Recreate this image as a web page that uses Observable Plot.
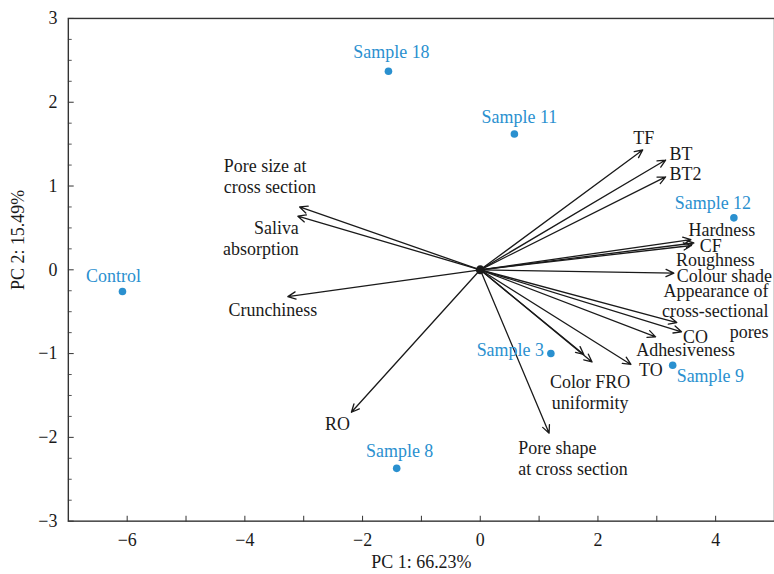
<!DOCTYPE html>
<html><head><meta charset="utf-8">
<script src="https://cdn.jsdelivr.net/npm/d3@7"></script>
<script src="https://cdn.jsdelivr.net/npm/@observablehq/plot@0.6"></script>
<style>
html,body{margin:0;padding:0;background:#fff;overflow:hidden;}
</style></head><body><div id="chart"></div>
<script>
// ---- data ----
const sampleNames = ["Control", "Sample 18", "Sample 11", "Sample 12", "Sample 3", "Sample 9", "Sample 8"];
const samplePC1 = [-6.08, -1.56, 0.58, 4.31, 1.20, 3.27, -1.42];
const samplePC2 = [-0.26, 2.37, 1.62, 0.62, -1.00, -1.14, -2.37];

const variableNames = ["TF", "BT", "BT2", "Hardness", "CF", "Roughness", "Colour shade",
  "Appearance of cross-sectional pores", "CO", "Adhesiveness", "TO", "Color uniformity", "FRO",
  "Pore shape at cross section", "RO", "Crunchiness", "Saliva absorption", "Pore size at cross section"];
const variableLabels = ["TF", "BT", "BT2", "Hardness", "CF", "Roughness", "Colour shade",
  "Appearance of\ncross-sectional\npores", "CO", "Adhesiveness", "TO", "Color FRO\nuniformity", "",
  "Pore shape\nat cross section", "RO", "Crunchiness", "Saliva\nabsorption", "Pore size at\ncross section"];
const loadingPC1 = [2.76, 3.15, 3.15, 3.58, 3.63, 3.59, 3.29, 3.34, 3.42, 2.98, 2.56, 1.90, 1.76, 1.17, -2.19, -3.27, -3.10, -3.07];
const loadingPC2 = [1.43, 1.31, 1.11, 0.36, 0.32, 0.29, -0.04, -0.63, -0.74, -0.80, -1.13, -1.10, -1.01, -1.95, -1.70, -0.32, 0.64, 0.75];

const xMajorTicks = [-6, -4, -2, 0, 2, 4];
const xMinorTicks = [-6, -5, -4, -3, -2, -1, 0, 1, 2, 3, 4];
const yMajorTicks = [-3, -2, -1, 0, 1, 2, 3];
const yMinorTicks = d3.range(-2.75, 3, 0.25).filter(v => !Number.isInteger(v));
const arrowOrigin = [{pc1: 0, pc2: 0}];
const xTitle = "PC 1: 66.23%";
const yTitle = "PC 2: 15.49%";

// ---- layout / style ----
const samples = sampleNames.map((name, i) => ({name, pc1: samplePC1[i], pc2: samplePC2[i]}));
const loadings = variableNames.map((name, i) => ({name, label: variableLabels[i], pc1: loadingPC1[i], pc2: loadingPC2[i]}));

// [textAnchor, dx, dy] in pixels relative to the point / arrow tip
const loadingLabelPlace = {
  "TF": ["middle", 1, -13],
  "BT": ["start", 4, -7],
  "BT2": ["start", 4, -3],
  "Hardness": ["middle", 31, -10],
  "CF": ["middle", 17, 2],
  "Roughness": ["middle", 24, 14],
  "Colour shade": ["start", 3, 2],
  "Appearance of cross-sectional pores": ["end", 92, -12],
  "CO": ["middle", 14, 5],
  "Adhesiveness": ["middle", 30, 13],
  "TO": ["middle", 20, 5],
  "Color uniformity": ["middle", -2, 30],
  "Pore shape at cross section": ["start", -31, 25],
  "RO": ["middle", -14, 11],
  "Crunchiness": ["middle", -15, 13],
  "Saliva absorption": ["end", 1, 22],
  "Pore size at cross section": ["start", -76, -31]
};
const sampleLabelPlace = {
  "Control": ["middle", -9, -15],
  "Sample 18": ["middle", 3, -19],
  "Sample 11": ["middle", 5, -17],
  "Sample 12": ["middle", -21, -15],
  "Sample 3": ["end", -7, -3],
  "Sample 9": ["start", 4, 11],
  "Sample 8": ["middle", 3, -17]
};

const font = "'Liberation Serif', 'Times New Roman', serif";
const blue = "#2a90cf";
const ink = "#1a1a1a";
const fs = 18;

const tickShape = {draw(context, l) { context.moveTo(0, 0); context.lineTo(0, -l); }};
const fmt = d => d < 0 ? "\u2212" + Math.abs(d) : String(d);

const loadingTextMarks = loadings.filter(d => d.label && loadingLabelPlace[d.name]).map(d => {
  const [a, dx, dy] = loadingLabelPlace[d.name];
  return Plot.text([d], {x: "pc1", y: "pc2", text: "label", textAnchor: a, dx, dy,
    lineAnchor: "middle", lineHeight: 1.15, fontSize: fs, fill: ink});
});
const sampleTextMarks = samples.map(d => {
  const [a, dx, dy] = sampleLabelPlace[d.name];
  return Plot.text([d], {x: "pc1", y: "pc2", text: "name", textAnchor: a, dx, dy,
    lineAnchor: "middle", fontSize: fs, fill: blue});
});

const chart = Plot.plot({
  width: 776, height: 574,
  marginLeft: 68, marginRight: 0, marginTop: 18, marginBottom: 52,
  x: {domain: [-7, 5]},
  y: {domain: [-3, 3]},
  style: {fontFamily: font, fontSize: "18px", color: ink, background: "#fff"},
  marks: [
    Plot.axisX(xMajorTicks, {tickSize: 0, tickPadding: 12, fontSize: fs, tickFormat: fmt, label: null}),
    Plot.axisY(yMajorTicks, {tickSize: 0, tickPadding: 11, fontSize: fs, tickFormat: fmt, label: null}),
    Plot.vector(xMinorTicks, {x: d => d, y: () => -3, length: 5, rotate: 0, anchor: "start", shape: tickShape, stroke: "#333", strokeWidth: 1}),
    Plot.vector(yMajorTicks, {x: () => -7, y: d => d, length: 5, rotate: 90, anchor: "start", shape: tickShape, stroke: "#333", strokeWidth: 1}),
    Plot.vector(yMinorTicks, {x: () => -7, y: d => d, length: 3, rotate: 90, anchor: "start", shape: tickShape, stroke: "#555", strokeWidth: 1}),
    Plot.frame({stroke: "#333", strokeWidth: 1.4}),
    Plot.arrow(loadings, {x1: () => 0, y1: () => 0, x2: "pc1", y2: "pc2",
      stroke: ink, strokeWidth: 1.3, headLength: 10, headAngle: 50}),
    Plot.dot(arrowOrigin, {x: "pc1", y: "pc2", r: 4.5, fill: ink}),
    ...loadingTextMarks,
    Plot.dot(samples, {x: "pc1", y: "pc2", r: 3.8, fill: blue}),
    ...sampleTextMarks,
    Plot.text([xTitle], {frameAnchor: "bottom", text: d => d, textAnchor: "middle", lineAnchor: "middle", dy: 41, fontSize: fs, fill: ink}),
    Plot.text([yTitle], {frameAnchor: "left", text: d => d, textAnchor: "middle", lineAnchor: "middle", rotate: -90, dx: -50, dy: -30, fontSize: fs, fill: ink})
  ]
});
document.getElementById("chart").appendChild(chart);
</script>
</body></html>
